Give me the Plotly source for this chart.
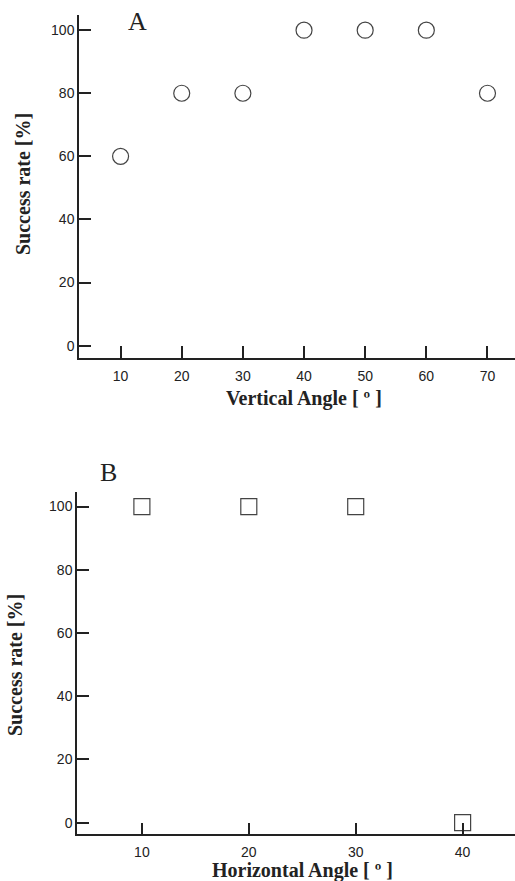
import plotly.graph_objects as go

# Panel A data
vertical_angle = [10, 20, 30, 40, 50, 60, 70]
vertical_success = [60, 80, 80, 100, 100, 100, 80]

# Panel B data
horizontal_angle = [10, 20, 30, 40]
horizontal_success = [100, 100, 100, 0]

y_ticks = [0, 20, 40, 60, 80, 100]

W, H = 515, 881

def px_x(x):
    return x / W

def px_y(y):
    return 1 - y / H

fig = go.Figure()

fig.add_trace(go.Scatter(
    x=vertical_angle, y=vertical_success, mode="markers",
    marker=dict(symbol="circle-open", size=16, color="#444444", line=dict(width=1.2)),
    xaxis="x", yaxis="y", showlegend=False,
))
fig.add_trace(go.Scatter(
    x=horizontal_angle, y=horizontal_success, mode="markers",
    marker=dict(symbol="square-open", size=16, color="#444444", line=dict(width=1.2)),
    xaxis="x2", yaxis="y2", showlegend=False,
))

tickfont = dict(family="Liberation Sans, Arial, sans-serif", size=14, color="#222222")
axis_common = dict(
    showline=True, linecolor="#222222", linewidth=1.5, mirror=False,
    ticks="inside", ticklen=12, tickwidth=1.5, tickcolor="#222222",
    showgrid=False, zeroline=False, tickfont=tickfont,
)

fig.update_layout(
    width=W, height=H,
    margin=dict(l=0, r=0, t=0, b=0),
    paper_bgcolor="white", plot_bgcolor="white",
    xaxis=dict(domain=[px_x(79), 1.0], range=[3.2, 74.5], tickvals=vertical_angle,
               anchor="y", ticklabelstandoff=4, **axis_common),
    yaxis=dict(domain=[px_y(358), px_y(15)], range=[-3.9, 104.8], tickvals=y_ticks,
               anchor="x", **axis_common),
    xaxis2=dict(domain=[px_x(77), 1.0], range=[3.93, 44.9], tickvals=horizontal_angle,
                anchor="y2", ticklabelstandoff=4, **axis_common),
    yaxis2=dict(domain=[px_y(834.3), px_y(491.7)], range=[-3.7, 104.7], tickvals=y_ticks,
                anchor="x2", **axis_common),
)

title_font = dict(family="Liberation Serif, Times New Roman, serif", size=20, color="#222222")
ann = [
    dict(text="<b>Vertical Angle [ º ]</b>", x=px_x(304), y=px_y(399)),
    dict(text="<b>Horizontal Angle [ º ]</b>", x=px_x(302), y=px_y(870)),
    dict(text="<b>Success rate [%]</b>", x=px_x(23), y=px_y(184), textangle=-90),
    dict(text="<b>Success rate [%]</b>", x=px_x(15), y=px_y(665), textangle=-90),
]
for a in ann:
    fig.add_annotation(xref="paper", yref="paper", showarrow=False,
                       xanchor="center", yanchor="middle", font=title_font, **a)

label_font = dict(family="Liberation Serif, Times New Roman, serif", size=26, color="#222222")
fig.add_annotation(text="A", x=px_x(137), y=px_y(22), xref="paper", yref="paper",
                   showarrow=False, xanchor="center", yanchor="middle", font=label_font)
fig.add_annotation(text="B", x=px_x(108), y=px_y(472), xref="paper", yref="paper",
                   showarrow=False, xanchor="center", yanchor="middle", font=label_font)

fig.write_html("out.html", config={"displayModeBar": False},
               post_script="document.body.style.margin='0';document.body.style.overflow='hidden';")
